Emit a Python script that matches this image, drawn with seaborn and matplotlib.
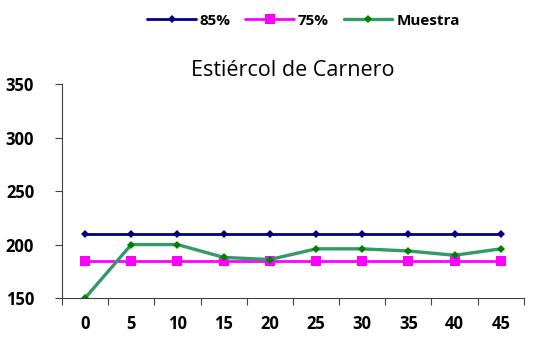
import matplotlib
matplotlib.use("Agg")
import matplotlib.pyplot as plt
import seaborn as sns
import pandas as pd
from matplotlib.ticker import FixedLocator

# Days of composting and measured values
dias = [0, 5, 10, 15, 20, 25, 30, 35, 40, 45]
serie_85 = [210, 210, 210, 210, 210, 210, 210, 210, 210, 210]
serie_75 = [185, 185, 185, 185, 185, 185, 185, 185, 185, 185]
muestra = [150, 200, 200, 188, 186, 196, 196, 194, 190, 196]
y_ticks = [150, 200, 250, 300, 350]

sns.set_theme(style="ticks")
plt.rcParams["font.family"] = ["Open Sans", "DejaVu Sans"]
plt.rcParams["text.color"] = "black"
plt.rcParams["xtick.color"] = "black"
plt.rcParams["ytick.color"] = "black"

df = pd.DataFrame({"dia": dias, "85%": serie_85, "75%": serie_75, "Muestra": muestra})

fig = plt.figure(figsize=(5.37, 3.43), dpi=100)
ax = fig.add_axes([0.1155, 0.131, 0.86, 0.624])

sns.lineplot(data=df, x="dia", y="85%", ax=ax, color="#000080", lw=2.0,
             marker="D", markersize=4.5, markeredgewidth=0, label="85%")
sns.lineplot(data=df, x="dia", y="75%", ax=ax, color="#FF00FF", lw=2.0,
             marker="s", markersize=6.5, markeredgewidth=0, label="75%")
sns.lineplot(data=df, x="dia", y="Muestra", ax=ax, color="#339966", lw=2.4,
             marker="D", markersize=4.5, markerfacecolor="#008000",
             markeredgewidth=0, label="Muestra")

ax.set_xlim(dias[0] - 2.5, dias[-1] + 2.5)
ax.set_ylim(y_ticks[0], y_ticks[-1])
ax.set_xticks(dias)
ax.set_xticklabels([str(d) for d in dias], fontweight="bold", fontsize=12)
ax.xaxis.set_minor_locator(FixedLocator([d - 2.5 for d in dias] + [dias[-1] + 2.5]))
ax.tick_params(axis="x", which="major", length=0, pad=12)
ax.tick_params(axis="x", which="minor", length=5, width=0.8, color="#404040",
               direction="out", bottom=True)
ax.set_yticks(y_ticks)
ax.set_yticklabels([str(v) for v in y_ticks], fontweight="bold", fontsize=12)
ax.tick_params(axis="y", which="major", length=5, width=0.8, color="#404040",
               direction="out", left=True, pad=15)
ax.tick_params(axis="y", which="minor", length=0)
ax.set_xlabel("")
ax.set_ylabel("")

for s in ["top", "right"]:
    ax.spines[s].set_visible(False)
for s in ["left", "bottom"]:
    ax.spines[s].set_color("#404040")
    ax.spines[s].set_linewidth(0.8)

ax.set_title("Estiércol de Carnero", fontsize=15.5, color="black", pad=6)

ax.legend_.remove()
handles, labels = ax.get_legend_handles_labels()
fig.legend(handles, labels, loc="center", bbox_to_anchor=(0.565, 0.94), ncol=3,
           frameon=False, handlelength=3.2, columnspacing=0.95, handletextpad=0.25,
           prop={"weight": "bold", "size": 11})

fig.savefig("out.png", dpi=100)
